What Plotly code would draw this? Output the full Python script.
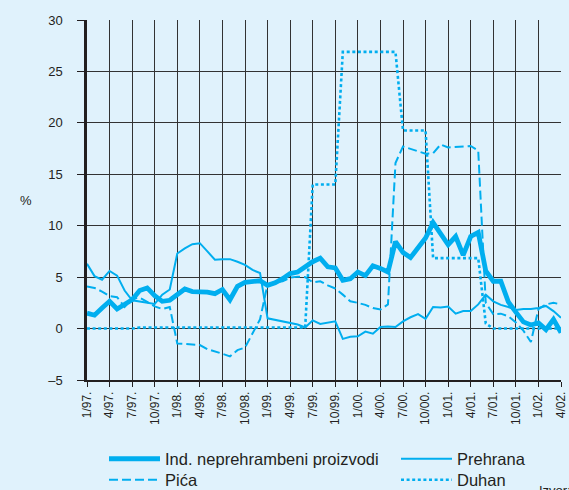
import plotly.graph_objects as go

# ---- data (monthly, 1/97 .. 4/02) ----
ind_neprehrambeni = [1.5, 1.3, 2.0, 2.65, 1.9, 2.4, 2.8, 3.7, 3.95, 3.2,
                     2.65, 2.75, 3.35, 3.85, 3.6, 3.6, 3.55, 3.4, 3.8, 2.8,
                     4.1, 4.5, 4.6, 4.65, 4.2, 4.45, 4.85, 5.35, 5.5, 6.05,
                     6.5, 6.85, 6.0, 5.9, 4.7, 4.85, 5.5, 5.15, 6.1, 5.85,
                     5.5, 8.45, 7.4, 6.9, 7.9, 8.8, 10.3, 9.3, 8.15, 8.95,
                     7.15, 8.95, 9.35, 5.6, 4.6, 4.6, 2.6, 1.6, 0.65, 0.35,
                     0.55, -0.1, 0.9, -0.4]
prehrana = [6.3, 5.1, 4.75, 5.6, 5.15, 3.7, 2.75, 2.65, 2.55, 2.4,
            3.3, 3.8, 7.3, 7.8, 8.2, 8.3, 7.5, 6.7, 6.75, 6.75,
            6.5, 6.2, 5.7, 5.4, 1.0, 0.85, 0.7, 0.5, 0.4, 0.1,
            0.8, 0.45, 0.55, 0.7, -1.0, -0.8, -0.75, -0.3, -0.5, 0.15,
            0.2, 0.15, 0.7, 1.1, 1.4, 0.95, 2.1, 2.05, 2.15, 1.45,
            1.7, 1.7, 2.35, 3.3, 2.65, 2.3, 2.1, 1.8, 1.9, 1.9,
            2.0, 2.2, 1.7, 1.05]
pica = [4.1, 3.95, 3.6, 3.15, 3.05, 2.1, 2.9, 3.0, 2.6, 2.15,
        1.9, 2.1, -1.45, -1.5, -1.55, -1.6, -2.0, -2.2, -2.45, -2.7,
        -2.1, -1.85, -0.4, 0.9, 4.3, 4.5, 4.6, 4.95, 5.05, 5.0,
        4.5, 4.6, 4.2, 3.9, 3.3, 2.65, 2.5, 2.3, 2.0, 1.85,
        2.35, 16.1, 17.7, 17.45, 17.2, 17.0, 17.05, 17.9, 17.6, 17.65,
        17.7, 17.75, 17.3, 2.5, 1.4, 1.45, 1.2, 0.6, -0.2, -1.3,
        1.9, 2.35, 2.5, 2.35]
duhan = [0, 0, 0, 0, 0, 0, 0, 0.1, 0.1, 0.1,
         0.1, 0.1, 0.1, 0.1, 0.1, 0.1, 0.1, 0.1, 0.1, 0.1,
         0.1, 0.1, 0.1, 0.1, 0.1, 0.1, 0.1, 0.1, 0.1, 0.1,
         14.0, 14.0, 14.0, 14.0, 26.9, 26.9, 26.9, 26.9, 26.9, 26.9,
         26.9, 26.9, 19.25, 19.25, 19.25, 19.25, 6.85, 6.85, 6.85, 6.85,
         6.85, 6.85, 6.85, 0.5, 0, 0, 0, 0, 0, 0,
         0, 0, 0, 0]
x_tick_labels = ["1/97.", "4/97.", "7/97.", "10/97.", "1/98.", "4/98.", "7/98.", "10/98.",
                 "1/99.", "4/99.", "7/99.", "10/99.", "1/00.", "4/00.", "7/00.", "10/00.",
                 "1/01.", "4/01.", "7/01.", "10/01.", "1/02.", "4/02."]
y_tick_vals = [-5, 0, 5, 10, 15, 20, 25, 30]
y_tick_labels = ["\u20135", "0", "5", "10", "15", "20", "25", "30"]
series_names = ["Ind. neprehrambeni proizvodi", "Prehrana", "Pi\u0107a", "Duhan"]

months = list(range(len(ind_neprehrambeni)))
tick_vals = months[::3]

BLUE = "#00aeef"
BG = "#e0f2fc"
GRID = "#333333"
TXT = "#231f20"
FONT = "Liberation Sans, Arial, sans-serif"

fig = go.Figure()
fig.add_trace(go.Scatter(x=months, y=duhan, mode="lines", name=series_names[3],
                         line=dict(color=BLUE, width=2.6, dash="3px,2.6px"), legend="legend4"))
fig.add_trace(go.Scatter(x=months, y=pica, mode="lines", name=series_names[2],
                         line=dict(color=BLUE, width=2, dash="9px,4px"), legend="legend3"))
fig.add_trace(go.Scatter(x=months, y=prehrana, mode="lines", name=series_names[1],
                         line=dict(color=BLUE, width=2), legend="legend2"))
fig.add_trace(go.Scatter(x=months, y=ind_neprehrambeni, mode="lines", name=series_names[0],
                         line=dict(color=BLUE, width=4.8), legend="legend"))

W, H = 569, 490
L, R, T, B = 87, 8, 20, 110
pw = W - L - R
ph = H - T - B


def px_x(p):
    return (p - L) / pw


def px_y(p):
    return (H - B - p) / ph


leg_common = dict(xanchor="left", yanchor="middle", bgcolor="rgba(0,0,0,0)",
                  borderwidth=0, itemwidth=51, font=dict(size=16.5, family=FONT, color=TXT))

fig.update_layout(
    width=W, height=H,
    margin=dict(l=L, r=R, t=T, b=B, autoexpand=False),
    paper_bgcolor=BG, plot_bgcolor=BG,
    font=dict(family=FONT, color=TXT),
    showlegend=True,
    legend=dict(x=px_x(104), y=px_y(459), **leg_common),
    legend2=dict(x=px_x(396), y=px_y(459), **leg_common),
    legend3=dict(x=px_x(104), y=px_y(480), **leg_common),
    legend4=dict(x=px_x(396), y=px_y(480), **leg_common),
    xaxis=dict(
        range=[0, months[-1]], tickvals=tick_vals, ticktext=x_tick_labels,
        tickangle=-90, tickfont=dict(size=12, family=FONT, color=TXT),
        showgrid=True, gridcolor=GRID, gridwidth=1,
        ticks="outside", ticklen=5, tickcolor=TXT, tickwidth=1,
        showline=True, linecolor=TXT, linewidth=1.5,
        zeroline=False, fixedrange=True,
    ),
    yaxis=dict(
        range=[-5, 30], tickvals=y_tick_vals, ticktext=y_tick_labels,
        tickfont=dict(size=13, family=FONT, color=TXT),
        showgrid=True, gridcolor=GRID, gridwidth=1,
        ticks="outside", ticklen=7, tickcolor=TXT, tickwidth=1,
        ticklabelstandoff=12,
        showline=True, linecolor=TXT, linewidth=2.5,
        zeroline=False, fixedrange=True,
    ),
    annotations=[
        dict(text="%", x=px_x(18), y=px_y(200), xref="paper", yref="paper",
             showarrow=False, font=dict(size=13, family=FONT, color=TXT)),
        dict(text="Izvor:", x=px_x(537), y=px_y(481), xref="paper", yref="paper",
             xanchor="left", yanchor="top", showarrow=False,
             font=dict(size=13, family=FONT, color=TXT)),
    ],
)

fig.write_html(
    "out.html",
    config={"displayModeBar": False},
    post_script="document.body.style.margin='0px';document.body.style.background='" + BG + "';",
)
